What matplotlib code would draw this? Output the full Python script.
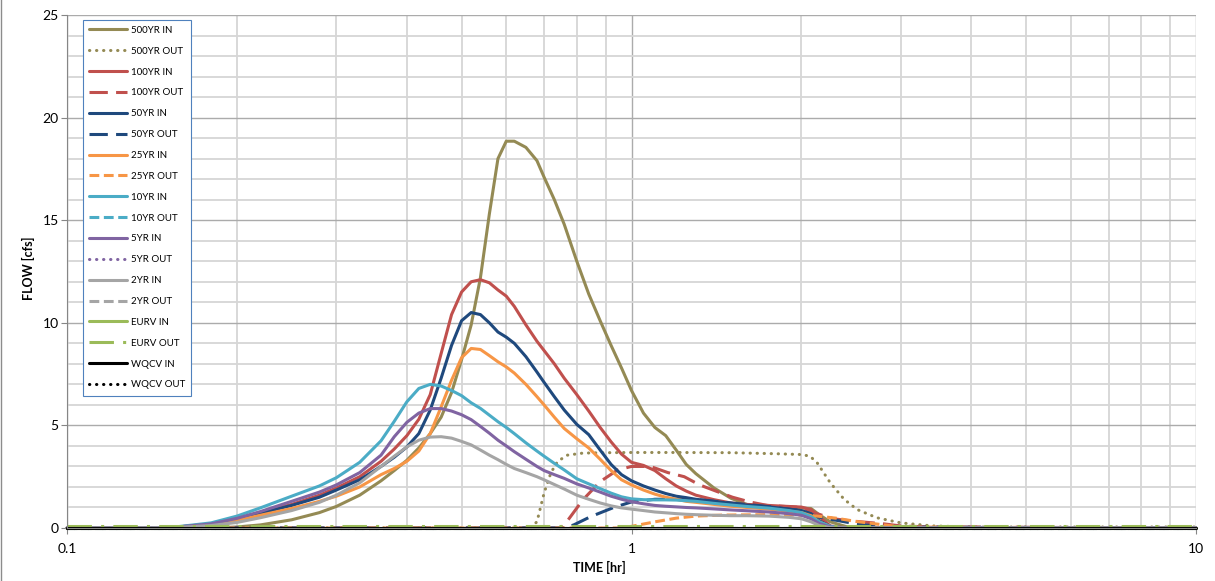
import matplotlib
matplotlib.use("Agg")
import matplotlib.pyplot as plt
from matplotlib.ticker import FixedLocator, NullFormatter, MultipleLocator
from matplotlib.lines import Line2D

plt.rcParams['font.family'] = ['Lato', 'DejaVu Sans']

# ---------------- data ----------------
T_IN = [0.10, 0.15, 0.18, 0.20, 0.22, 0.25, 0.28, 0.30, 0.33, 0.36, 0.38, 0.40, 0.42,
        0.44, 0.46, 0.48, 0.50, 0.52, 0.54, 0.56, 0.58, 0.60, 0.62, 0.65, 0.68, 0.70,
        0.73, 0.76, 0.80, 0.84, 0.88, 0.92, 0.96, 1.00, 1.05, 1.10, 1.15, 1.20, 1.25,
        1.30, 1.40, 1.50, 1.60, 1.75, 1.90, 2.00, 2.08, 2.15, 2.25, 2.40, 3.00, 10.0]

in_500 = [0, 0, 0, 0.05, 0.15, 0.4, 0.75, 1.05, 1.6, 2.3, 2.8, 3.3, 3.9,
          4.6, 5.4, 6.6, 8.2, 9.9, 12.2, 15.3, 18.0, 18.85, 18.85, 18.55, 17.9, 17.1,
          16.0, 14.8, 13.0, 11.4, 10.1, 8.9, 7.8, 6.7, 5.6, 4.9, 4.5, 3.8, 3.1,
          2.65, 1.95, 1.45, 1.15, 1.0, 0.97, 0.97, 0.95, 0.65, 0.3, 0.07, 0, 0]
in_100 = [0, 0, 0.2, 0.45, 0.75, 1.15, 1.6, 1.95, 2.5, 3.25, 3.85, 4.5, 5.3,
          6.5, 8.5, 10.4, 11.5, 12.0, 12.1, 11.95, 11.6, 11.3, 10.8, 9.9, 9.1, 8.65,
          8.0, 7.3, 6.5, 5.7, 4.9, 4.2, 3.6, 3.2, 3.05, 2.8, 2.4, 2.05, 1.8,
          1.6, 1.38, 1.22, 1.15, 1.1, 1.05, 1.02, 0.9, 0.55, 0.1, 0, 0, 0]
in_50 = [0, 0, 0.18, 0.42, 0.72, 1.1, 1.5, 1.85, 2.35, 3.0, 3.45, 3.95, 4.6,
         5.75, 7.3, 8.9, 10.1, 10.5, 10.4, 10.0, 9.55, 9.3, 9.0, 8.35, 7.6, 7.1,
         6.4, 5.75, 5.05, 4.55, 3.8, 3.1, 2.6, 2.3, 2.05, 1.85, 1.68, 1.55, 1.48,
         1.4, 1.3, 1.2, 1.12, 1.03, 0.92, 0.85, 0.7, 0.35, 0.08, 0, 0, 0]
in_25 = [0, 0, 0.15, 0.37, 0.62, 0.95, 1.3, 1.55, 2.0, 2.6, 2.9, 3.25, 3.75,
         4.6, 5.9, 7.2, 8.3, 8.75, 8.7, 8.4, 8.1, 7.85, 7.55, 7.0, 6.4, 6.0,
         5.4, 4.85, 4.35, 3.9, 3.35, 2.8, 2.35, 2.1, 1.85, 1.65, 1.5, 1.4, 1.3,
         1.25, 1.15, 1.06, 1.0, 0.92, 0.82, 0.75, 0.6, 0.3, 0.07, 0, 0, 0]
in_10 = [0, 0, 0.25, 0.58, 0.98, 1.55, 2.05, 2.45, 3.2, 4.25, 5.2, 6.15, 6.8,
         7.0, 6.92, 6.7, 6.45, 6.1, 5.83, 5.5, 5.18, 4.9, 4.6, 4.15, 3.75, 3.5,
         3.15, 2.83, 2.4, 2.15, 1.92, 1.7, 1.52, 1.42, 1.38, 1.37, 1.37, 1.36, 1.33,
         1.3, 1.2, 1.12, 1.05, 0.97, 0.85, 0.75, 0.55, 0.3, 0.08, 0, 0, 0]
in_5 = [0, 0, 0.2, 0.47, 0.8, 1.3, 1.75, 2.1, 2.7, 3.55, 4.45, 5.15, 5.6,
        5.82, 5.82, 5.7, 5.52, 5.28, 4.95, 4.62, 4.28, 4.0, 3.72, 3.35, 3.0, 2.8,
        2.6, 2.42, 2.15, 1.95, 1.75, 1.55, 1.4, 1.28, 1.18, 1.1, 1.06, 1.03, 1.0,
        0.98, 0.93, 0.88, 0.84, 0.78, 0.7, 0.62, 0.45, 0.22, 0.05, 0, 0, 0]
in_2 = [0, 0, 0.12, 0.27, 0.5, 0.85, 1.25, 1.6, 2.2, 3.0, 3.5, 3.95, 4.28,
        4.43, 4.45, 4.38, 4.22, 4.05, 3.8, 3.55, 3.33, 3.1, 2.9, 2.7, 2.5, 2.35,
        2.12, 1.9, 1.6, 1.4, 1.22, 1.08, 0.98, 0.92, 0.85, 0.78, 0.74, 0.7, 0.67,
        0.65, 0.62, 0.6, 0.6, 0.58, 0.52, 0.45, 0.3, 0.12, 0.02, 0, 0, 0]

T_OUT_500 = [0.10, 0.66, 0.68, 0.70, 0.72, 0.74, 0.77, 0.82, 0.90, 1.00, 1.20, 1.50,
             1.80, 2.00, 2.07, 2.13, 2.25, 2.38, 2.51, 2.72, 3.00, 3.42, 4.00, 10.0]
out_500 = [0, 0, 0.3, 1.7, 2.7, 3.25, 3.55, 3.65, 3.67, 3.68, 3.68, 3.67,
           3.62, 3.58, 3.5, 3.2, 2.2, 1.4, 0.9, 0.5, 0.25, 0.1, 0.05, 0.05]

T_OUT_100 = [0.10, 0.75, 0.77, 0.82, 0.88, 0.945, 1.00, 1.08, 1.16, 1.24, 1.32, 1.42,
             1.51, 1.62, 1.74, 2.00, 2.13, 2.28, 2.44, 2.80, 3.00, 3.40, 10.0]
out_100 = [0, 0, 0.35, 1.37, 2.26, 2.83, 3.0, 3.0, 2.7, 2.5, 2.1, 1.77,
           1.5, 1.27, 1.1, 1.0, 0.7, 0.45, 0.35, 0.2, 0.1, 0.05, 0]

T_OUT_50 = [0.10, 0.76, 0.79, 0.846, 0.93, 1.00, 1.10, 1.20, 1.32, 1.50, 1.74, 1.90,
            2.00, 2.13, 2.28, 2.50, 2.80, 10.0]
out_50 = [0, 0, 0.15, 0.55, 1.0, 1.27, 1.4, 1.4, 1.37, 1.22, 1.05, 0.92,
          0.85, 0.55, 0.4, 0.2, 0.05, 0]

T_OUT_25 = [0.10, 0.95, 1.00, 1.10, 1.20, 1.30, 1.45, 1.75, 2.00, 2.10, 2.30, 2.50,
            2.80, 3.00, 10.0]
out_25 = [0, 0, 0.08, 0.3, 0.48, 0.58, 0.63, 0.65, 0.63, 0.6, 0.48, 0.32,
          0.15, 0.05, 0]

T_FLAT = [0.10, 10.0]
out_10 = [0, 0]
out_5 = [0, 0]
out_2 = [0, 0]
in_eurv = [0, 0]
out_eurv = [0.12, 0.12]
in_wqcv = [0, 0]
out_wqcv = [0, 0]

labels = ["500YR IN", "500YR OUT", "100YR IN", "100YR OUT", "50YR IN", "50YR OUT",
          "25YR IN", "25YR OUT", "10YR IN", "10YR OUT", "5YR IN", "5YR OUT",
          "2YR IN", "2YR OUT", "EURV IN", "EURV OUT", "WQCV IN", "WQCV OUT"]

# ---------------- styles ----------------
C500 = '#948A54'; C100 = '#C0504D'; C50 = '#1F497D'; C25 = '#F79646'
C10 = '#4BACC6'; C5 = '#8064A2'; C2 = '#A5A5A5'; CEU = '#9BBB59'; CWQ = '#000000'
DOT = (0, (0.1, 2.2))
LGDASH = (0, (6, 2.7))
DASH = (0, (3.2, 1.5))
LGDASHDOT = (0, (8, 3, 1, 3))

series = [
    (T_IN, in_500, C500, '-'), (T_OUT_500, out_500, C500, DOT),
    (T_IN, in_100, C100, '-'), (T_OUT_100, out_100, C100, LGDASH),
    (T_IN, in_50, C50, '-'), (T_OUT_50, out_50, C50, LGDASH),
    (T_IN, in_25, C25, '-'), (T_OUT_25, out_25, C25, DASH),
    (T_IN, in_10, C10, '-'), (T_FLAT, out_10, C10, DASH),
    (T_IN, in_5, C5, '-'), (T_FLAT, out_5, C5, DOT),
    (T_IN, in_2, C2, '-'), (T_FLAT, out_2, C2, DASH),
    (T_FLAT, in_eurv, CEU, '-'), (T_FLAT, out_eurv, CEU, LGDASHDOT),
    (T_FLAT, in_wqcv, CWQ, '-'), (T_FLAT, out_wqcv, CWQ, DOT),
]

W, H = 1215, 581
fig = plt.figure(figsize=(W / 100, H / 100), dpi=100)
ax = fig.add_axes([67 / W, 1 - 528 / H, (1196 - 67) / W, (528 - 15) / H])

for (t, v, c, ls), lab in zip(series, labels):
    cap = 'round' if ls == DOT else 'butt'
    ax.plot(t, v, color=c, linestyle=ls, lw=2.2, label=lab,
            dash_capstyle=cap, solid_capstyle='round', solid_joinstyle='round',
            clip_on=False)

ax.set_xscale('log')
ax.set_xlim(0.1, 10)
ax.set_ylim(0, 25)
ax.xaxis.set_major_locator(FixedLocator([0.1, 1, 10]))
ax.set_xticklabels(['0.1', '1', '10'])
ax.xaxis.set_minor_locator(FixedLocator([m * d for d in (0.1, 1) for m in range(2, 10)]))
ax.xaxis.set_minor_formatter(NullFormatter())
ax.yaxis.set_major_locator(MultipleLocator(5))
ax.yaxis.set_minor_locator(MultipleLocator(1))

ax.grid(which='major', color='#ABABAB', lw=1.0, zorder=0)
ax.grid(which='minor', color='#D6D6D6', lw=1.3, zorder=0)
ax.set_axisbelow(True)

for s in ('top', 'right'):
    ax.spines[s].set_visible(False)
ax.spines['left'].set_color('#868686')
ax.spines['bottom'].set_color('#868686')

ax.tick_params(which='major', direction='out', length=4, width=0.8, color='#868686',
               labelsize=10, labelcolor='black')
ax.tick_params(axis='x', which='major', pad=7)
ax.tick_params(axis='y', which='major', pad=2)
ax.tick_params(which='minor', length=0)

ax.set_xlabel('TIME [hr]', fontsize=9, fontweight='bold')
ax.set_ylabel('FLOW [cfs]', fontsize=9, fontweight='bold')
ax.xaxis.set_label_coords((599 - 67) / (1196 - 67), (528 - 567) / 513)
ax.yaxis.set_label_coords((28 - 67) / (1196 - 67), (528 - 268) / 513)
ax.xaxis.label.set_va('center')
ax.yaxis.label.set_va('center')

leg = ax.legend(loc='upper left', bbox_to_anchor=(83 / W, 1 - 19.5 / H),
                bbox_transform=fig.transFigure, borderaxespad=0, fontsize=7,
                handlelength=3.9, handletextpad=0.35, labelspacing=1.22,
                borderpad=0.65, fancybox=False, framealpha=1, edgecolor='#4F81BD')
leg.get_frame().set_linewidth(0.8)

fig.add_artist(Line2D([0.5 / W, 0.5 / W], [0, 1], transform=fig.transFigure,
                      color='#8C8C8C', lw=1))

fig.savefig('out.png', dpi=100)
